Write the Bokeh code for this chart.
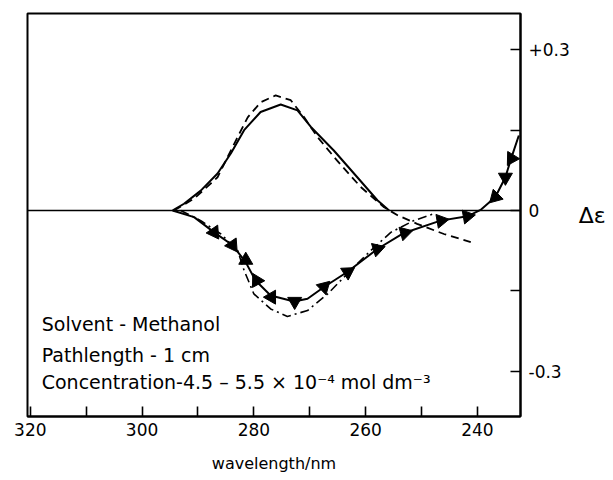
from bokeh.plotting import figure
from bokeh.models import Range1d, FixedTicker, Span, Label
from bokeh.embed import file_html
from bokeh.resources import INLINE

# ---- data ----
pos_solid_wl = [294.5, 292.5, 289.5, 286.5, 284.1, 281.75, 278.8, 275.2, 272.2, 269.8, 265.7, 261.5, 257.9, 255.8]
pos_solid_de = [0.0, 0.0125, 0.037, 0.069, 0.107, 0.150, 0.184, 0.198, 0.187, 0.156, 0.112, 0.062, 0.019, 0.0]

pos_dash_wl = [294.3, 290.7, 286.5, 283.5, 281.1, 278.8, 276.1, 273.4, 271.0, 268.6, 265.1, 260.9, 256.7, 254.3, 250.8, 246.0, 241.2]
pos_dash_de = [0.0, 0.022, 0.062, 0.125, 0.174, 0.202, 0.215, 0.206, 0.174, 0.137, 0.093, 0.044, 0.006, -0.009, -0.025, -0.044, -0.059]

neg_solid_wl = [294.55, 290.7, 287.1, 283.8, 281.45, 279.7, 277.0, 272.8, 270.4, 267.45, 263.3, 257.9, 253.15, 246.6, 241.8, 239.45, 236.8, 235.0, 234.1, 232.6]
neg_solid_de = [0.0, -0.0125, -0.041, -0.065, -0.097, -0.131, -0.159, -0.170, -0.165, -0.143, -0.115, -0.072, -0.042, -0.019, -0.011, 0.001, 0.025, 0.062, 0.093, 0.140]

marker_wl = [287.1, 283.8, 281.45, 279.5, 276.85, 272.7, 267.45, 263.2, 257.9, 253.0, 246.5, 241.8, 236.8, 235.0, 233.9]
marker_de = [-0.041, -0.065, -0.093, -0.131, -0.162, -0.170, -0.143, -0.115, -0.072, -0.042, -0.019, -0.011, 0.025, 0.062, 0.097]

dashdot_wl = [293.1, 289.5, 285.9, 282.9, 281.75, 280.0, 277.0, 274.0, 270.4, 266.8, 262.7, 259.1, 255.5, 251.4, 247.8]
dashdot_de = [0.0, -0.019, -0.044, -0.075, -0.112, -0.156, -0.184, -0.198, -0.187, -0.156, -0.112, -0.075, -0.041, -0.019, -0.006]

x_major = [320, 300, 280, 260, 240]
x_minor = [310, 290, 270, 250]
y_major = [0.3, 0.0, -0.3]
y_minor = [0.15, -0.15]
y_labels = {0.3: "+0.3", 0.0: "0", -0.3: "-0.3"}

# marker orientation (style)
marker_angle = [3.74, 3.74, 0.0, 0.5, 1.57, 3.14, -0.8, -1.0, -1.27, -1.3, -1.4, -1.4, 2.36, 3.14, 0.5]

FONT = "DejaVu Sans"

p = figure(width=613, height=480,
           x_range=Range1d(320.5, 232.3), y_range=Range1d(-0.385, 0.368),
           output_backend="svg", toolbar_location=None,
           y_axis_location="right",
           min_border_left=27, min_border_right=93, min_border_top=13, min_border_bottom=64,
           background_fill_color="white", border_fill_color="white")
p.xgrid.visible = False
p.ygrid.visible = False
p.outline_line_color = "black"
p.outline_line_width = 2
p.outline_line_alpha = 1

xa = p.xaxis[0]
xa.ticker = FixedTicker(ticks=x_major, minor_ticks=x_minor)
xa.major_tick_in = 10
xa.major_tick_out = 0
xa.minor_tick_in = 10
xa.minor_tick_out = 0
xa.major_tick_line_width = 1.6
xa.minor_tick_line_width = 1.6
xa.minor_tick_line_color = "black"
xa.axis_line_width = 2
xa.major_label_standoff = 6
xa.major_label_text_font = FONT
xa.major_label_text_font_size = "17px"
xa.major_label_text_color = "black"
xa.axis_label = "wavelength/nm"
xa.axis_label_standoff = 15
xa.axis_label_text_font = FONT
xa.axis_label_text_font_size = "16px"
xa.axis_label_text_font_style = "normal"
xa.axis_label_text_color = "black"

ya = p.yaxis[0]
ya.ticker = FixedTicker(ticks=y_major, minor_ticks=y_minor)
ya.major_label_overrides = y_labels
ya.major_tick_in = 10
ya.major_tick_out = 0
ya.minor_tick_in = 10
ya.minor_tick_out = 0
ya.major_tick_line_width = 1.6
ya.minor_tick_line_width = 1.6
ya.minor_tick_line_color = "black"
ya.axis_line_width = 2
ya.major_label_standoff = 8
ya.major_label_text_font = FONT
ya.major_label_text_font_size = "17px"
ya.major_label_text_color = "black"
ya.axis_label = "\u0394\u03b5"
ya.axis_label_orientation = "horizontal"
ya.axis_label_standoff = 6
ya.axis_label_text_font = FONT
ya.axis_label_text_font_size = "22px"
ya.axis_label_text_font_style = "normal"
ya.axis_label_text_color = "black"

p.add_layout(Span(location=0, dimension="width", line_color="black", line_width=1.5))

p.line(pos_solid_wl, pos_solid_de, line_color="black", line_width=2)
p.line(pos_dash_wl, pos_dash_de, line_color="black", line_width=1.8, line_dash="8 5")
p.line(dashdot_wl, dashdot_de, line_color="black", line_width=1.6, line_dash="9 4 2 4")
p.line(neg_solid_wl, neg_solid_de, line_color="black", line_width=2)
p.scatter(marker_wl, marker_de, marker="triangle", size=14, angle=marker_angle,
          fill_color="black", line_color="black")

texts = [("Solvent - Methanol", -0.2118),
         ("Pathlength - 1 cm", -0.271),
         ("Concentration-4.5 \u2013 5.5 \u00d7 10\u207b\u2074 mol dm\u207b\u00b3", -0.321)]
for t, yy in texts:
    p.add_layout(Label(x=317.96, y=yy, text=t, text_font=FONT, text_font_size="19px",
                       text_color="black", text_baseline="alphabetic", text_align="left"))

open("out.html", "w").write(file_html(p, INLINE))
